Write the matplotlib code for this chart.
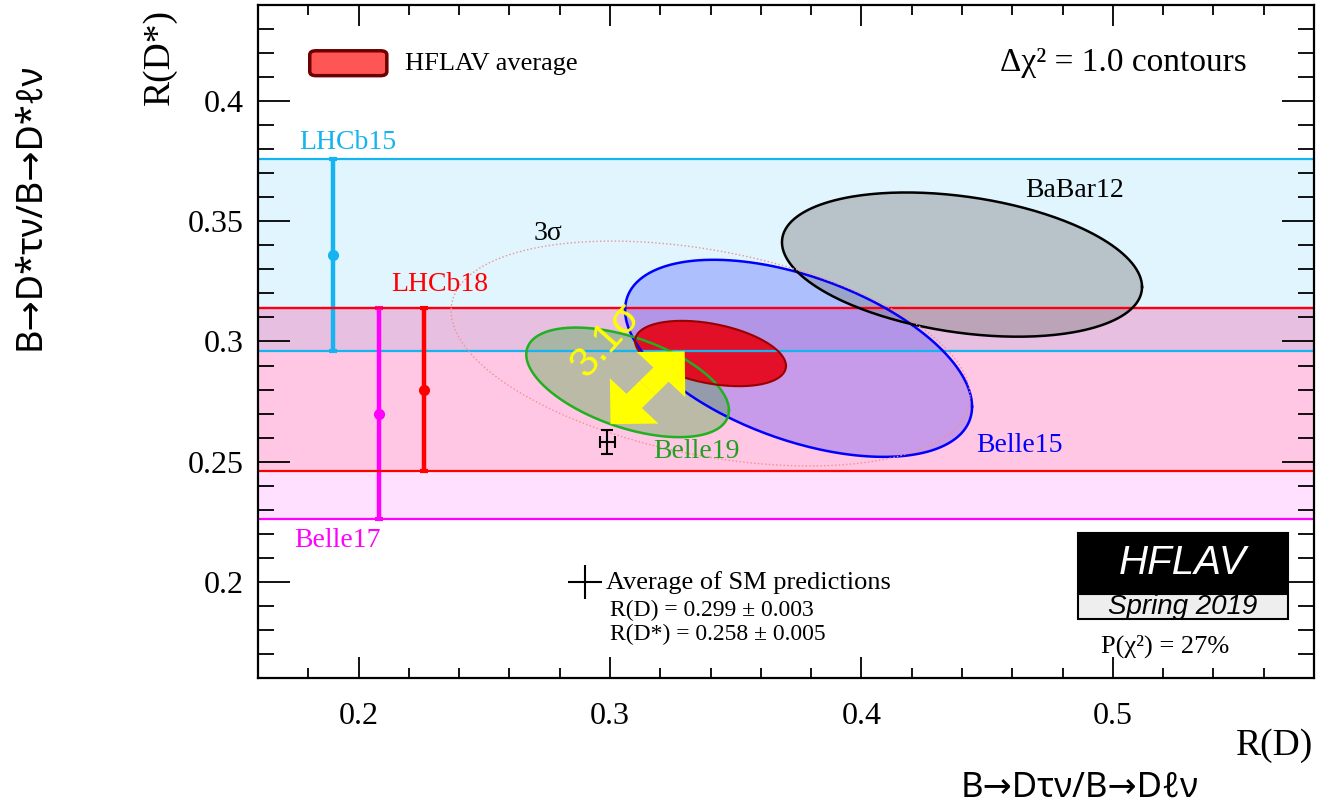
import numpy as np
import matplotlib
matplotlib.use("Agg")
import matplotlib.pyplot as plt
from matplotlib.patches import FancyBboxPatch, Rectangle

plt.rcParams["font.family"] = "Liberation Serif"

# 1D R(D*) measurements, drawn as horizontal bands
band_names = ["LHCb15", "Belle17", "LHCb18"]
band_val = [0.336, 0.270, 0.280]
band_err = [0.040, 0.044, 0.034]
band_xpos = [0.190, 0.208, 0.226]

# 2D measurements (Delta chi2 = 1 contours)
meas_names = ["BaBar12", "Belle15", "Belle19"]
meas_rd = [0.440, 0.375, 0.307]
meas_rd_err = [0.0716, 0.069, 0.0403]
meas_rds = [0.332, 0.293, 0.283]
meas_rds_err = [0.030, 0.041, 0.0228]
meas_rho = [-0.31, -0.49, -0.51]

# HFLAV average
avg_rd, avg_rd_err = 0.340, 0.030
avg_rds, avg_rds_err = 0.295, 0.0136
avg_rho = -0.38
k3sigma = np.sqrt(11.83)

# SM prediction
sm_rd, sm_rd_err = 0.299, 0.003
sm_rds, sm_rds_err = 0.258, 0.005

# tension arrow
arrow_start = (0.3002, 0.2656)
arrow_end = (0.3297, 0.2959)


def contour(x, y, sx, sy, rho, k=1.0):
    t = np.linspace(0, 2 * np.pi, 300)
    cx = x + k * sx * np.cos(t)
    cy = y + k * sy * (rho * np.cos(t) + np.sqrt(1 - rho ** 2) * np.sin(t))
    return cx, cy


fig = plt.figure(figsize=(13.17, 8.10), dpi=100)
ax = fig.add_axes([258 / 1317, 1 - 678 / 810, (1314 - 258) / 1317, (678 - 5) / 810])
ax.set_xlim(0.16, 0.58)
ax.set_ylim(0.16, 0.44)

cyan = "#14b4f0"
mag = "#ff00ff"
red = "#ff0000"

# =============================
# Bands
# =============================
i = 0
ax.axhspan(band_val[i] - band_err[i], band_val[i] + band_err[i], color=(0, 0.7, 0.94), alpha=0.12, lw=0)
for s in (-1, 1):
    ax.axhline(band_val[i] + s * band_err[i], color=cyan, lw=1.6)
ax.errorbar(band_xpos[i], band_val[i], yerr=band_err[i], fmt="o", ms=7, lw=3.2, capsize=3,
            capthick=3, color=cyan)

for i, c, a in [(1, mag, 0.12), (2, red, 0.11)]:
    ax.axhspan(band_val[i] - band_err[i], band_val[i] + band_err[i], color=c, alpha=a, lw=0)
for i, c in [(1, mag), (2, red)]:
    for s in (-1, 1):
        ax.axhline(band_val[i] + s * band_err[i], color=c, lw=1.6)
    ax.errorbar(band_xpos[i], band_val[i], yerr=band_err[i], fmt="o", ms=7, lw=3.2, capsize=3,
                capthick=3, color=c)

ax.text(0.1956, 0.383, band_names[0], color=cyan, fontsize=20, ha="center", va="center")
ax.text(0.1916, 0.217, band_names[1], color=mag, fontsize=20, ha="center", va="center")
ax.text(0.2322, 0.3237, band_names[2], color=red, fontsize=20, ha="center", va="center")

# =============================
# Ellipses
# =============================
styles = {
    "Belle15": dict(fc=(0, 0, 1), alpha=0.22, ec="#0000ff"),
    "BaBar12": dict(fc=(0.5, 0.5, 0.5), alpha=0.42, ec="#000000"),
    "Belle19": dict(fc=(0.16, 0.63, 0.16), alpha=0.32, ec="#20b020"),
}
for name in ["Belle15", "BaBar12", "Belle19"]:
    j = meas_names.index(name)
    cx, cy = contour(meas_rd[j], meas_rds[j], meas_rd_err[j], meas_rds_err[j], meas_rho[j])
    st = styles[name]
    ax.fill(cx, cy, color=st["fc"], alpha=st["alpha"], lw=0)
    ax.plot(cx, cy, color=st["ec"], lw=1.8)

ax.text(0.4848, 0.3627, "BaBar12", color="black", fontsize=20, ha="center", va="center")
ax.text(0.463, 0.2568, "Belle15", color="#0000ff", fontsize=20, ha="center", va="center")
ax.text(0.3345, 0.2544, "Belle19", color="#20a020", fontsize=20, ha="center", va="center")

cx, cy = contour(avg_rd, avg_rds, avg_rd_err, avg_rds_err, avg_rho)
ax.fill(cx, cy, color=(0.91, 0.0, 0.08), alpha=0.9, lw=0)
ax.plot(cx, cy, color="#9a0000", lw=1.5)

cx, cy = contour(avg_rd, avg_rds, avg_rd_err, avg_rds_err, avg_rho, k=k3sigma)
ax.plot(cx, cy, color="#f09090", lw=1.0, ls=":")
ax.text(0.2752, 0.3448, "3σ", fontsize=20, ha="center", va="center")

# SM point
ax.errorbar(sm_rd, sm_rds, xerr=sm_rd_err, yerr=sm_rds_err, fmt="none", ecolor="black",
            lw=1.5, capsize=4, capthick=1.5)

# tension arrow (two heads from the middle)
mx = (arrow_start[0] + arrow_end[0]) / 2
my = (arrow_start[1] + arrow_end[1]) / 2
for px, py in [arrow_start, arrow_end]:
    ax.arrow(mx, my, px - mx, py - my, width=0.0085, head_width=0.027, head_length=0.0135,
             length_includes_head=True, fc="#ffff00", ec="none", zorder=6)
ax.text(0.2985, 0.3005, "3.1σ", color="#ffff00", fontsize=30, family="Liberation Sans",
        rotation=48, ha="center", va="center", zorder=7)

# =============================
# Annotations
# =============================
ax.add_patch(FancyBboxPatch((0.049, 0.895), 0.073, 0.037, boxstyle="round,pad=0,rounding_size=0.006",
                            fc="#ff5555", ec="#6e0000", lw=2.5, transform=ax.transAxes))
ax.text(0.139, 0.912, "HFLAV average", fontsize=19, ha="left", va="center", transform=ax.transAxes)
ax.text(0.9366, 0.914, "Δχ² = 1.0 contours", fontsize=24, ha="right", va="center",
        transform=ax.transAxes)

ax.plot(0.3097, 0.1426, marker="+", ms=24, mew=1.5, color="black", transform=ax.transAxes)
ax.text(0.330, 0.1426, "Average of SM predictions", fontsize=19, ha="left", va="center",
        transform=ax.transAxes)
ax.text(0.333, 0.101, f"R(D) = {sm_rd:.3f} ± {sm_rd_err:.3f}", fontsize=17, ha="left",
        va="center", transform=ax.transAxes)
ax.text(0.333, 0.0654, f"R(D*) = {sm_rds:.3f} ± {sm_rds_err:.3f}", fontsize=17, ha="left",
        va="center", transform=ax.transAxes)

ax.add_patch(Rectangle((0.7765, 0.126), 0.199, 0.0895, fc="black", ec="black", lw=1.5,
                       transform=ax.transAxes))
ax.add_patch(Rectangle((0.7765, 0.0877), 0.199, 0.0371, fc="#eeeeee", ec="black", lw=1.5,
                       transform=ax.transAxes))
ax.text(0.876, 0.171, "HFLAV", color="white", fontsize=29, style="italic",
        family="Liberation Sans", ha="center", va="center", transform=ax.transAxes)
ax.text(0.876, 0.106, "Spring 2019", color="black", fontsize=20, style="italic",
        family="Liberation Sans", ha="center", va="center", transform=ax.transAxes)
ax.text(0.859, 0.0475, "P(χ²) = 27%", fontsize=19, ha="center", va="center",
        transform=ax.transAxes)

# =============================
# Axes style
# =============================
ax.set_xticks([0.2, 0.3, 0.4, 0.5])
ax.set_xticklabels(["0.2", "0.3", "0.4", "0.5"])
ax.set_xticks(np.arange(0.18, 0.58, 0.02), minor=True)
ax.set_yticks([0.2, 0.25, 0.3, 0.35, 0.4])
ax.set_yticklabels(["0.2", "0.25", "0.3", "0.35", "0.4"])
ax.set_yticks(np.arange(0.17, 0.44, 0.01), minor=True)
ax.tick_params(axis="x", which="major", direction="in", length=15, width=1.3, top=True,
               labelsize=23, pad=17)
ax.tick_params(axis="x", which="minor", direction="in", length=7.5, width=1.3, top=True)
ax.tick_params(axis="y", which="major", direction="in", length=23, width=1.3, right=True,
               labelsize=23, pad=10)
ax.tick_params(axis="y", which="minor", direction="in", length=11.5, width=1.3, right=True)
for sp in ax.spines.values():
    sp.set_linewidth(1.6)

fig.text(0.997, 0.080, "R(D)", fontsize=27, ha="right", va="center")
fig.text(0.1215, 0.93, "R(D*)", fontsize=27, rotation=90, ha="center", va="center")

outer = ["Noto Sans", "DejaVu Sans"]
fig.text(0.820, 0.028, "B→Dτν/B→Dℓν", fontsize=25, family=outer, ha="center", va="center")
fig.text(0.023, 0.745, "B→D*τν/B→D*ℓν", fontsize=26, family=outer, rotation=90,
         ha="center", va="center")

fig.savefig("out.png", dpi=100)
